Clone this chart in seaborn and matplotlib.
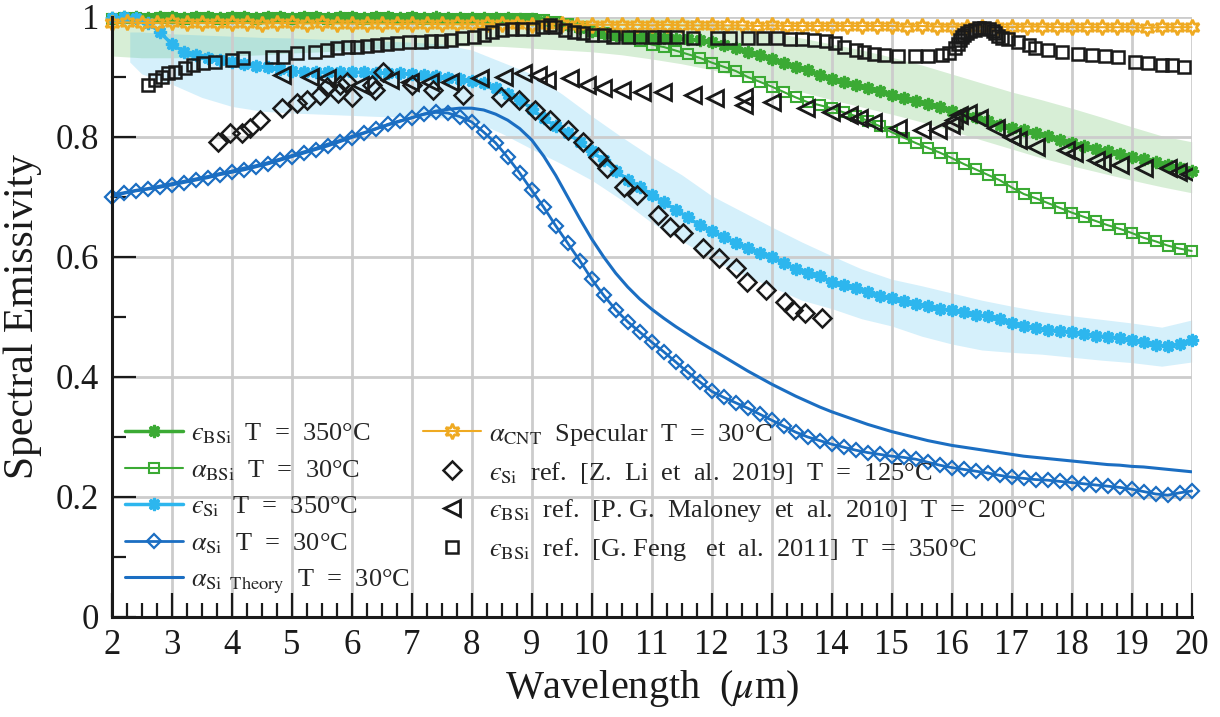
import numpy as np
import matplotlib
matplotlib.use('Agg')
import matplotlib.pyplot as plt
import seaborn as sns
from matplotlib.ticker import MultipleLocator, FuncFormatter

# wavelength sampling of the curves (um)
wl = np.linspace(2, 20, 91)
wl_cnt = np.linspace(2, 20, 73)

eps_bsi = [0.999, 1.000, 1.000, 0.999, 1.000, 1.000, 0.999, 1.000, 1.000, 0.999,
           1.000, 1.000, 0.999, 1.000, 1.000, 0.999, 1.000, 1.000, 0.999, 1.000,
           1.000, 0.999, 1.000, 1.000, 0.999, 1.000, 0.999, 1.000, 0.999, 0.999,
           0.999, 0.999, 0.998, 0.998, 0.997, 0.996, 0.993, 0.990, 0.986, 0.982,
           0.977, 0.973, 0.970, 0.968, 0.967, 0.966, 0.965, 0.964, 0.963, 0.961,
           0.958, 0.953, 0.948, 0.942, 0.937, 0.930, 0.924, 0.917, 0.911, 0.903,
           0.896, 0.891, 0.886, 0.881, 0.876, 0.870, 0.865, 0.860, 0.855, 0.850,
           0.844, 0.838, 0.833, 0.827, 0.820, 0.815, 0.811, 0.806, 0.801, 0.795,
           0.790, 0.785, 0.780, 0.776, 0.771, 0.767, 0.763, 0.758, 0.753, 0.749,
           0.744]

alpha_bsi = [0.997, 0.998, 0.998, 0.997, 0.998, 0.998, 0.997, 0.998, 0.998, 0.997,
             0.998, 0.998, 0.997, 0.998, 0.998, 0.997, 0.998, 0.998, 0.997, 0.998,
             0.998, 0.997, 0.998, 0.998, 0.997, 0.998, 0.997, 0.997, 0.997, 0.997,
             0.997, 0.997, 0.997, 0.996, 0.996, 0.996, 0.995, 0.992, 0.988, 0.983,
             0.977, 0.973, 0.970, 0.966, 0.960, 0.954, 0.950, 0.944, 0.938, 0.932,
             0.924, 0.917, 0.910, 0.900, 0.892, 0.884, 0.875, 0.866, 0.858, 0.853,
             0.848, 0.841, 0.835, 0.827, 0.818, 0.808, 0.799, 0.790, 0.782, 0.774,
             0.765, 0.755, 0.746, 0.737, 0.728, 0.716, 0.705, 0.698, 0.690, 0.682,
             0.674, 0.667, 0.660, 0.653, 0.647, 0.640, 0.632, 0.626, 0.619, 0.614,
             0.610]

eps_si = [0.998, 1.000, 0.999, 0.990, 0.975, 0.955, 0.942, 0.936, 0.931, 0.928,
          0.925, 0.922, 0.918, 0.916, 0.913, 0.910, 0.908, 0.908, 0.908, 0.908,
          0.908, 0.908, 0.907, 0.907, 0.906, 0.905, 0.904, 0.902, 0.898, 0.896,
          0.893, 0.890, 0.881, 0.872, 0.862, 0.847, 0.831, 0.818, 0.806, 0.792,
          0.776, 0.761, 0.744, 0.729, 0.717, 0.704, 0.691, 0.679, 0.666, 0.653,
          0.643, 0.633, 0.624, 0.615, 0.607, 0.600, 0.590, 0.580, 0.574, 0.568,
          0.558, 0.554, 0.548, 0.542, 0.535, 0.531, 0.527, 0.522, 0.518, 0.514,
          0.511, 0.508, 0.504, 0.501, 0.496, 0.490, 0.485, 0.482, 0.479, 0.477,
          0.475, 0.472, 0.469, 0.467, 0.465, 0.462, 0.458, 0.454, 0.451, 0.455,
          0.462]

alpha_si = [0.700, 0.706, 0.710, 0.713, 0.716, 0.720, 0.724, 0.728, 0.732, 0.737,
            0.741, 0.745, 0.750, 0.755, 0.761, 0.767, 0.773, 0.779, 0.785, 0.792,
            0.799, 0.806, 0.813, 0.821, 0.827, 0.832, 0.838, 0.841, 0.840, 0.834,
            0.825, 0.808, 0.790, 0.766, 0.740, 0.711, 0.683, 0.652, 0.623, 0.594,
            0.563, 0.536, 0.512, 0.492, 0.475, 0.458, 0.442, 0.425, 0.408, 0.392,
            0.376, 0.366, 0.357, 0.348, 0.338, 0.328, 0.318, 0.308, 0.300, 0.294,
            0.288, 0.283, 0.278, 0.274, 0.271, 0.268, 0.266, 0.263, 0.258, 0.253,
            0.249, 0.246, 0.243, 0.240, 0.236, 0.233, 0.231, 0.229, 0.228, 0.226,
            0.224, 0.222, 0.220, 0.218, 0.216, 0.213, 0.209, 0.205, 0.203, 0.207,
            0.210]

alpha_si_theory = [0.703, 0.707, 0.711, 0.714, 0.718, 0.722, 0.726, 0.730, 0.734, 0.739,
                   0.743, 0.748, 0.752, 0.757, 0.763, 0.769, 0.775, 0.781, 0.788, 0.794,
                   0.801, 0.807, 0.814, 0.820, 0.826, 0.832, 0.838, 0.843, 0.846, 0.848,
                   0.848, 0.845, 0.838, 0.828, 0.814, 0.795, 0.768, 0.736, 0.700, 0.664,
                   0.630, 0.600, 0.573, 0.550, 0.530, 0.513, 0.498, 0.484, 0.471, 0.458,
                   0.446, 0.434, 0.422, 0.410, 0.399, 0.388, 0.378, 0.368, 0.359, 0.350,
                   0.342, 0.335, 0.328, 0.321, 0.315, 0.309, 0.304, 0.299, 0.294, 0.290,
                   0.286, 0.283, 0.280, 0.277, 0.274, 0.271, 0.268, 0.266, 0.264, 0.262,
                   0.260, 0.258, 0.256, 0.254, 0.253, 0.251, 0.250, 0.248, 0.246, 0.244,
                   0.242]

alpha_cnt = [0.990, 0.991, 0.990, 0.990, 0.991, 0.990, 0.990, 0.990,
             0.990, 0.990, 0.989, 0.990, 0.990, 0.989, 0.990, 0.989,
             0.989, 0.989, 0.989, 0.988, 0.989, 0.989, 0.988, 0.988,
             0.988, 0.988, 0.988, 0.988, 0.987, 0.988, 0.988, 0.987,
             0.987, 0.987, 0.987, 0.987, 0.986, 0.987, 0.986, 0.986,
             0.986, 0.986, 0.986, 0.985, 0.986, 0.985, 0.985, 0.985,
             0.985, 0.985, 0.985, 0.985, 0.985, 0.984, 0.985, 0.984,
             0.984, 0.984, 0.984, 0.984, 0.983, 0.984, 0.984, 0.983,
             0.983, 0.983, 0.983, 0.983, 0.983, 0.982, 0.983, 0.983,
             0.983]

# uncertainty bands
bsi_band_x = np.linspace(2, 20, 37)
bsi_band_hi = [1.0, 1.0, 1.0, 1.0, 1.0, 1.0, 1.0, 1.0, 1.0, 1.0,
               1.0, 1.0, 1.0, 1.0, 1.0, 1.0, 1.0, 1.0, 1.0, 0.998,
               0.992, 0.984, 0.975, 0.965, 0.955, 0.945, 0.933, 0.920, 0.905, 0.890,
               0.875, 0.862, 0.848, 0.833, 0.817, 0.802, 0.792]
bsi_band_lo = [0.935, 0.932, 0.932, 0.933, 0.935, 0.937, 0.940, 0.942, 0.945, 0.947,
               0.950, 0.951, 0.952, 0.951, 0.948, 0.945, 0.942, 0.937, 0.930, 0.922,
               0.912, 0.900, 0.888, 0.875, 0.862, 0.850, 0.838, 0.825, 0.810, 0.795,
               0.780, 0.765, 0.752, 0.740, 0.728, 0.717, 0.707]

si_band_x = [2.3, 2.5, 3.0, 3.5, 4.0, 4.5, 5.0, 5.5, 6.0, 6.5, 7.0, 7.5, 8.0, 8.5,
             9.0, 9.5, 10.0, 10.5, 11.0, 11.5, 12.0, 12.5, 13.0, 13.5, 14.0, 14.5,
             15.0, 15.5, 16.0, 16.5, 17.0, 17.5, 18.0, 18.5, 19.0, 19.5, 20.0]
si_band_hi = [0.975, 0.975, 0.972, 0.970, 0.968, 0.966, 0.965, 0.963, 0.962, 0.960,
              0.958, 0.955, 0.945, 0.925, 0.905, 0.872, 0.835, 0.800, 0.767, 0.737,
              0.702, 0.676, 0.650, 0.625, 0.602, 0.580, 0.563, 0.552, 0.540, 0.528,
              0.518, 0.509, 0.502, 0.496, 0.490, 0.483, 0.495]
si_band_lo = [0.925, 0.905, 0.888, 0.866, 0.851, 0.843, 0.840, 0.838, 0.836, 0.834,
              0.833, 0.832, 0.828, 0.806, 0.780, 0.755, 0.728, 0.695, 0.657, 0.627,
              0.596, 0.572, 0.550, 0.528, 0.514, 0.497, 0.485, 0.468, 0.455, 0.445,
              0.441, 0.438, 0.433, 0.428, 0.424, 0.418, 0.425]

# literature points
li_x = [3.77, 3.97, 4.17, 4.30, 4.47, 4.84, 5.09, 5.25, 5.47, 5.59, 5.77, 5.81,
        5.92, 6.00, 6.34, 6.39, 6.52, 7.00, 7.36, 7.86, 8.48, 8.78, 9.06, 9.31,
        9.61, 9.86, 10.10, 10.26, 10.53, 10.76, 11.10, 11.30, 11.52, 11.85, 12.12,
        12.40, 12.58, 12.90, 13.22, 13.36, 13.56, 13.84]
li_y = [0.792, 0.807, 0.807, 0.815, 0.828, 0.848, 0.857, 0.862, 0.870, 0.883, 0.873, 0.887,
        0.892, 0.867, 0.887, 0.878, 0.908, 0.887, 0.878, 0.870, 0.867, 0.862, 0.845, 0.828,
        0.812, 0.792, 0.767, 0.748, 0.717, 0.703, 0.670, 0.650, 0.640, 0.615, 0.598,
        0.582, 0.558, 0.545, 0.525, 0.512, 0.507, 0.498]

maloney_x = [4.84, 5.30, 5.59, 6.14, 6.64, 6.97, 7.30, 7.64, 8.14, 8.53, 8.86, 9.11,
             9.25, 9.64, 9.92, 10.19, 10.50, 10.83, 11.19, 11.69, 12.05, 12.53, 12.53,
             13.00, 13.57, 13.99, 14.29, 14.46, 14.69, 15.10, 15.50, 15.77, 15.99, 16.04,
             16.12, 16.27, 16.46, 16.74, 17.00, 17.10, 17.40, 17.90, 18.04, 18.40, 18.50,
             18.80, 19.20, 19.60, 19.78, 19.95]
maloney_y = [0.903, 0.900, 0.898, 0.887, 0.895, 0.892, 0.892, 0.892, 0.898, 0.900, 0.907, 0.903,
             0.895, 0.898, 0.887, 0.882, 0.878, 0.875, 0.875, 0.870, 0.865, 0.867, 0.853,
             0.858, 0.848, 0.842, 0.837, 0.832, 0.825, 0.815, 0.812, 0.812, 0.820, 0.828,
             0.837, 0.840, 0.832, 0.815, 0.800, 0.795, 0.783, 0.778, 0.773, 0.762, 0.757,
             0.753, 0.748, 0.748, 0.742, 0.738]

feng_x = [2.60, 2.72, 2.83, 2.94, 3.05, 3.22, 3.36, 3.52, 3.72, 4.00, 4.19, 4.67,
          4.85, 5.09, 5.39, 5.59, 5.76, 5.93, 6.09, 6.26, 6.42, 6.59, 6.76, 6.96,
          7.15, 7.32, 7.49, 7.66, 7.84, 8.03, 8.20, 8.34, 8.50, 8.67, 8.84, 9.02,
          9.17, 9.30, 9.39, 9.55, 9.70, 9.86, 10.00, 10.20, 10.36, 10.60, 10.80, 11.03,
          11.20, 11.42, 11.69, 12.08, 12.30, 12.60, 12.86, 13.08, 13.30, 13.50, 13.70,
          13.90, 14.05, 14.20, 14.40, 14.54, 14.70, 14.87, 15.10, 15.38, 15.60, 15.83,
          15.96, 16.05, 16.10, 16.13, 16.17, 16.20, 16.25, 16.30, 16.38, 16.45, 16.54,
          16.62, 16.68, 16.72, 16.77, 16.83, 16.94, 17.10, 17.28, 17.38, 17.60, 17.83,
          18.10, 18.33, 18.55, 18.77, 19.05, 19.28, 19.50, 19.68, 19.87]
feng_y = [0.887, 0.895, 0.900, 0.907, 0.908, 0.915, 0.920, 0.923, 0.925, 0.928, 0.932, 0.933,
          0.933, 0.940, 0.942, 0.945, 0.948, 0.950, 0.950, 0.952, 0.953, 0.955, 0.957, 0.958,
          0.958, 0.960, 0.960, 0.962, 0.965, 0.967, 0.970, 0.975, 0.978, 0.980, 0.980, 0.980,
          0.983, 0.987, 0.983, 0.978, 0.975, 0.973, 0.970, 0.970, 0.967, 0.967, 0.967, 0.967,
          0.966, 0.966, 0.965, 0.965, 0.965, 0.965, 0.965, 0.965, 0.964, 0.963, 0.962,
          0.960, 0.957, 0.950, 0.945, 0.942, 0.938, 0.937, 0.935, 0.935, 0.935, 0.937,
          0.940, 0.948, 0.955, 0.961, 0.966, 0.970, 0.974, 0.977, 0.979, 0.981, 0.981,
          0.980, 0.977, 0.973, 0.968, 0.965, 0.963, 0.958, 0.953, 0.948, 0.945, 0.942,
          0.938, 0.937, 0.935, 0.933, 0.925, 0.923, 0.920, 0.920, 0.917]

labels = [r'$ϵ_{\rm BSi}$  T  =  350°C',
          r'$\alpha_{\rm BSi}$  T  =  30°C',
          r'$ϵ_{\rm Si}$  T  =  350°C',
          r'$\alpha_{\rm Si}$  T  =  30°C',
          r'$\alpha_{\rm Si\ \ Theory}$  T  =  30°C',
          r'$\alpha_{\rm CNT}$  Specular  T  =  30°C',
          r'$ϵ_{\rm Si}$  ref.  [Z.  Li  et  al.  2019]  T  =  125°C',
          r'$ϵ_{\rm BSi}$  ref.  [P. G.  Maloney  et  al.  2010]  T  =  200°C',
          r'$ϵ_{\rm BSi}$  ref.  [G. Feng   et  al.  2011]  T  =  350°C']

GREEN = '#3BAA34'
CYAN = '#2DB6EE'
BLUE = '#1B6EC2'
ORANGE = '#EFAA22'

sns.set_theme(style='white')
plt.rcParams['font.family'] = ['Liberation Serif', 'DejaVu Serif']
plt.rcParams['mathtext.fontset'] = 'stix'

fig, ax = plt.subplots(figsize=(12.2, 7.17), dpi=100)
fig.subplots_adjust(left=0.0916, right=0.9768, bottom=0.1395, top=0.9763)

ax.fill_between(bsi_band_x, bsi_band_lo, bsi_band_hi, color=GREEN, alpha=0.2, lw=0)
ax.fill_between(si_band_x, si_band_lo, si_band_hi, color=CYAN, alpha=0.2, lw=0)

sns.lineplot(x=wl, y=eps_bsi, ax=ax, color=GREEN, lw=2.5, marker=(8, 1, 0), ms=9,
             mec=GREEN, mew=2, label=labels[0], clip_on=False)
sns.lineplot(x=wl, y=alpha_bsi, ax=ax, color=GREEN, lw=1.5, marker='s', ms=7,
             mfc='none', mec=GREEN, mew=1.5, label=labels[1], clip_on=False)
sns.lineplot(x=wl, y=eps_si, ax=ax, color=CYAN, lw=2.5, marker=(8, 1, 0), ms=9,
             mec=CYAN, mew=2, label=labels[2], clip_on=False)
sns.lineplot(x=wl, y=alpha_si, ax=ax, color=BLUE, lw=2, marker='D', ms=7.5,
             mfc='none', mec=BLUE, mew=1.6, label=labels[3], clip_on=False)
sns.lineplot(x=wl, y=alpha_si_theory, ax=ax, color=BLUE, lw=2.2, label=labels[4])
sns.lineplot(x=wl_cnt, y=alpha_cnt, ax=ax, color=ORANGE, lw=1.5, marker=(6, 1, 0), ms=11,
             mfc='none', mec=ORANGE, mew=2, label=labels[5], clip_on=False)
sns.lineplot(x=li_x, y=li_y, ax=ax, estimator=None, sort=False, ls='', marker='D', ms=9,
             mfc='none', mec='k', mew=1.8, label=labels[6])
sns.lineplot(x=maloney_x, y=maloney_y, ax=ax, estimator=None, sort=False, ls='', marker='<',
             ms=11, mfc='none', mec='k', mew=2, label=labels[7])
sns.lineplot(x=feng_x, y=feng_y, ax=ax, estimator=None, sort=False, ls='', marker='s',
             ms=9, mfc='none', mec='k', mew=1.8, label=labels[8])

ax.set_xlim(2, 20)
ax.set_ylim(0, 1)
ax.xaxis.set_major_locator(MultipleLocator(1))
ax.xaxis.set_minor_locator(MultipleLocator(0.25))
ax.yaxis.set_major_locator(MultipleLocator(0.2))
ax.yaxis.set_minor_locator(MultipleLocator(0.1))
ax.yaxis.set_major_formatter(FuncFormatter(lambda v, p: f'{v:g}'))

ax.set_axisbelow('line')
ax.grid(True, which='major', color='0.8', lw=2)
for side in ['top', 'right']:
    ax.spines[side].set_visible(False)
for side in ['left', 'bottom']:
    ax.spines[side].set_color('k')
    ax.spines[side].set_linewidth(2.2)
ax.tick_params(which='both', direction='in', left=True, bottom=True, top=False, right=False,
               color='k', width=1.6, labelsize=25, labelcolor='k')
ax.tick_params(which='major', length=17, pad=9)
ax.tick_params(which='minor', length=10)

ax.set_xlabel(r'Wavelength  ($\mu$m)', fontsize=29, color='k', labelpad=4)
ax.set_ylabel('Spectral Emissivity', fontsize=30, color='k', labelpad=10)

handles, labs = ax.get_legend_handles_labels()
ax.legend(handles, labs, ncol=2, loc='lower left', bbox_to_anchor=(0.012, 0.035),
          frameon=False, fontsize=19, handlelength=2.2, handletextpad=0.3,
          columnspacing=0.5, labelspacing=0.45, borderpad=0, borderaxespad=0)

fig.savefig('out.png', dpi=100)
